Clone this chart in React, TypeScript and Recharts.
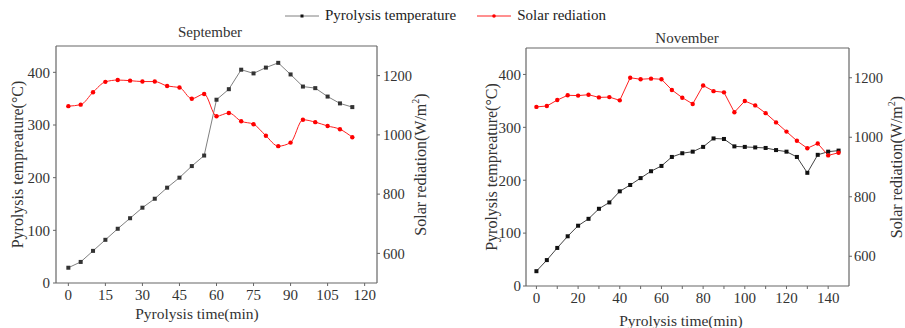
import { LineChart, Line, XAxis, YAxis, Legend, ReferenceLine } from 'recharts'

const sepTime = [0, 5, 10, 15, 20, 25, 30, 35, 40, 45, 50, 55, 60, 65, 70, 75, 80, 85, 90, 95, 100, 105, 110, 115]
const sepTemp = [29, 40, 61, 82, 103, 123, 143, 160, 181, 200, 222, 242, 348, 368, 405, 398, 409, 418, 396, 373, 370, 354, 341, 334]
const sepSolar = [1097, 1102, 1144, 1179, 1185, 1183, 1180, 1180, 1165, 1160, 1122, 1138, 1063, 1074, 1046, 1036, 997, 962, 974, 1051, 1043, 1030, 1019, 992]

const novTime = [0, 5, 10, 15, 20, 25, 30, 35, 40, 45, 50, 55, 60, 65, 70, 75, 80, 85, 90, 95, 100, 105, 110, 115, 120, 125, 130, 135, 140, 145]
const novTemp = [28, 49, 72, 94, 114, 127, 146, 158, 179, 191, 204, 217, 227, 244, 251, 254, 263, 279, 278, 264, 263, 262, 261, 257, 254, 244, 214, 248, 254, 256]
const novSolar = [1102, 1105, 1125, 1141, 1140, 1143, 1134, 1135, 1124, 1200, 1195, 1197, 1195, 1159, 1133, 1112, 1174, 1155, 1151, 1084, 1122, 1107, 1081, 1050, 1019, 988, 963, 979, 939, 948]

const tempTicks = [0, 100, 200, 300, 400]
const solarTicks = [600, 800, 1000, 1200]
const sepTimeTicks = [0, 15, 30, 45, 60, 75, 90, 105, 120]
const novTimeTicks = [0, 10, 20, 30, 40, 50, 60, 70, 80, 90, 100, 110, 120, 130, 140]

const sepData = sepTime.map((t, i) => ({ t, temp: sepTemp[i], solar: sepSolar[i] }))
const novData = novTime.map((t, i) => ({ t, temp: novTemp[i], solar: novSolar[i] }))

const FONT = 'Liberation Serif'
const AXIS = '#666'
const TXT = '#333'

const squareDot = (fill: string, size: number) => (p: any) => (
  <rect key={`sq-${p.index}`} x={p.cx - size / 2} y={p.cy - size / 2} width={size} height={size} fill={fill} />
)
const roundDot = (fill: string, r: number) => (p: any) => (
  <circle key={`ci-${p.index}`} cx={p.cx} cy={p.cy} r={r} fill={fill} />
)

// rotated axis title, centred on the axis box
const vTitle = (x: number, text: React.ReactNode) => (p: any) => {
  const cy = p.viewBox.y + p.viewBox.height / 2
  return (
    <text x={x} y={cy} transform={`rotate(-90 ${x} ${cy})`} textAnchor="middle" dominantBaseline="central"
      fill={TXT} fontSize={16} fontFamily={FONT}>
      {text}
    </text>
  )
}
const hTitle = (x: number, y: number, text: string, size: number) => () => (
  <text x={x} y={y} textAnchor="middle" dominantBaseline="central" fill={TXT} fontSize={size} fontFamily={FONT}>
    {text}
  </text>
)

const LegendBox = ({ payload }: any) => (
  <div style={{ display: 'flex', alignItems: 'center', fontFamily: FONT, fontSize: 15, color: '#222', whiteSpace: 'nowrap' }}>
    {(payload || []).map((e: any, i: number) => (
      <div key={e.value} style={{ display: 'flex', alignItems: 'center', marginRight: i === 0 ? 21 : 0 }}>
        <svg width={34} height={10} style={{ marginRight: 6 }}>
          <line x1={0} y1={5} x2={34} y2={5} stroke={e.color} strokeWidth={1} />
          {i === 0
            ? <rect x={15.5} y={3.5} width={3} height={3} fill="#111" />
            : <circle cx={17} cy={5} r={1.8} fill="#f00" />}
        </svg>
        <span>{e.value}</span>
      </div>
    ))}
  </div>
)

const solarLabel = <>Solar rediation(W/m<tspan dy={-5} fontSize={10}>2</tspan><tspan dy={5}>)</tspan></>

const tickStyle = (size: number) => ({ fill: TXT, fontSize: size, fontFamily: FONT })

export default function App() {
  return (
    <div style={{ position: 'absolute', left: 0, top: 0, width: 905, height: 328, background: '#fff', overflow: 'hidden', fontFamily: FONT }}>
      <div style={{ position: 'absolute', left: 0, top: 0 }}>
        <LineChart width={450} height={328} data={sepData} margin={{ top: 46, right: 33, bottom: 15, left: 16 }}>
          <XAxis dataKey="t" type="number" domain={[-5, 125]} ticks={sepTimeTicks} height={30}
            tickSize={3} tickMargin={3} tick={tickStyle(15)}
            axisLine={{ stroke: AXIS, strokeWidth: 1.2 }} tickLine={{ stroke: AXIS }}
            label={hTitle(197, 313, 'Pyrolysis time(min)', 15.5)} />
          <YAxis yAxisId="l" domain={[0, 450]} ticks={tempTicks} width={40} tickSize={3} tickMargin={3}
            tick={tickStyle(15)} axisLine={{ stroke: AXIS, strokeWidth: 1.2 }}
            tickLine={{ stroke: AXIS }} label={vTitle(17, 'Pyrolysis tempreature(°C)')} />
          <YAxis yAxisId="r" orientation="right" domain={[500, 1300]} ticks={solarTicks} width={40} tickSize={3}
            tickMargin={3} tick={tickStyle(14.5)}
            axisLine={{ stroke: AXIS, strokeWidth: 1.2 }} tickLine={{ stroke: AXIS }}
            label={vTitle(420, solarLabel)} />
          <ReferenceLine yAxisId="l" y={450} stroke={AXIS} strokeWidth={1.2} ifOverflow="visible"
            label={hTitle(210, 32, 'September', 15)} />
          <Legend verticalAlign="middle" align="center" content={<LegendBox />}
            wrapperStyle={{ left: 285, top: 7, width: 360, height: 18 }} />
          <Line yAxisId="l" type="linear" dataKey="temp" name="Pyrolysis temperature" stroke="#808080"
            strokeWidth={1} dot={squareDot('#333', 4)} isAnimationActive={false} />
          <Line yAxisId="r" type="monotone" dataKey="solar" name="Solar rediation" stroke="#ff2020"
            strokeWidth={1} dot={roundDot('#f00', 2.2)} isAnimationActive={false} />
        </LineChart>
      </div>
      <div style={{ position: 'absolute', left: 450, top: 0 }}>
        <LineChart width={455} height={328} data={novData} margin={{ top: 48, right: 16, bottom: 12, left: 36 }}>
          <XAxis dataKey="t" type="number" domain={[-5, 150]} ticks={novTimeTicks} height={30}
            tickFormatter={(v: number) => (v % 20 === 0 ? String(v) : '')}
            tickSize={3} tickMargin={3} tick={tickStyle(15)}
            axisLine={{ stroke: AXIS, strokeWidth: 1.2 }} tickLine={{ stroke: AXIS }}
            label={hTitle(231, 320, 'Pyrolysis time(min)', 15.5)} />
          <YAxis yAxisId="l" domain={[0, 450]} ticks={tempTicks} width={40} tickSize={3} tickMargin={2}
            tick={tickStyle(15)} axisLine={{ stroke: AXIS, strokeWidth: 1.2 }}
            tickLine={{ stroke: AXIS }} label={vTitle(41, 'Pyrolysis tempreature(°C)')} />
          <YAxis yAxisId="r" orientation="right" domain={[500, 1300]} ticks={solarTicks} width={40} tickSize={3}
            tickMargin={2} tick={tickStyle(14.5)}
            axisLine={{ stroke: AXIS, strokeWidth: 1.2 }} tickLine={{ stroke: AXIS }}
            label={vTitle(446, solarLabel)} />
          <ReferenceLine yAxisId="l" y={450} stroke={AXIS} strokeWidth={1.2} ifOverflow="visible"
            label={hTitle(237, 38, 'November', 15)} />
          <Line yAxisId="l" type="linear" dataKey="temp" name="Pyrolysis temperature" stroke="#444"
            strokeWidth={1} dot={squareDot('#111', 4)} isAnimationActive={false} />
          <Line yAxisId="r" type="linear" dataKey="solar" name="Solar rediation" stroke="#ff2020"
            strokeWidth={1} dot={roundDot('#f00', 2.2)} isAnimationActive={false} />
        </LineChart>
      </div>
    </div>
  )
}
